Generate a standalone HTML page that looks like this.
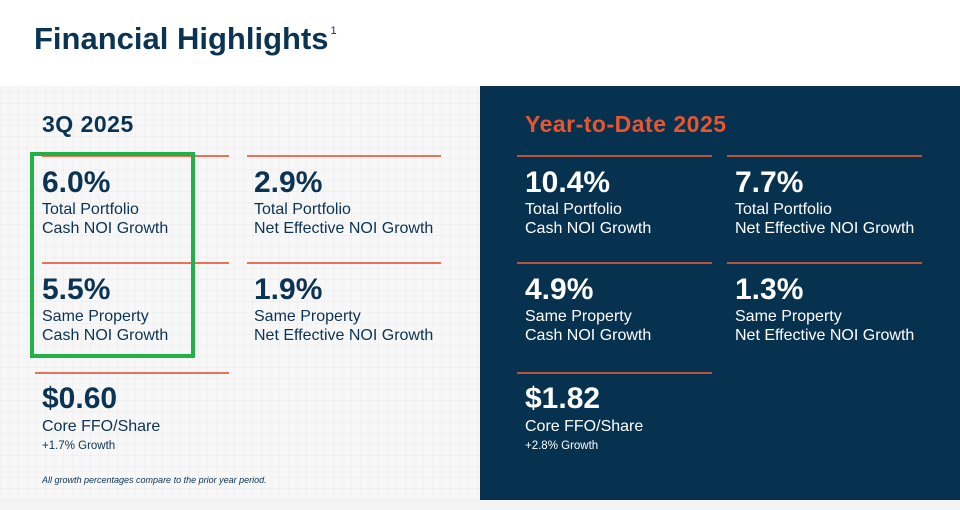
<!DOCTYPE html>
<html><head><meta charset="utf-8"><style>
*{margin:0;padding:0;box-sizing:border-box}
body{width:960px;height:510px;overflow:hidden;background:#f3f3f3;font-family:"Liberation Sans",sans-serif;position:relative}
.hdr{position:absolute;left:0;top:0;width:960px;height:86px;background:#fff}
.title{position:absolute;left:34px;top:21px;font-size:31px;font-weight:bold;color:#0b3354;letter-spacing:0px}
.title sup{font-size:11px;font-weight:normal;vertical-align:top;position:relative;top:4px;margin-left:2px}
.left{position:absolute;left:0;top:86px;width:480px;height:414px;background:#f7f7f7;
background-image:repeating-linear-gradient(90deg,rgba(0,0,0,0.025) 0 1px,transparent 1px 9px),repeating-linear-gradient(0deg,rgba(0,0,0,0.025) 0 1px,transparent 1px 11px)}
.right{position:absolute;left:480px;top:86px;width:480px;height:414px;background:#07324f}
.sec{position:absolute;font-size:23px;font-weight:bold;letter-spacing:0.5px}
.line{position:absolute;height:2px;background:#e8735a}
.val{position:absolute;font-size:30px;font-weight:bold;line-height:30px}
.lab{position:absolute;font-size:16px;line-height:19px}
.sub{position:absolute;font-size:11.5px}
.dk{color:#0b3354}.wt{color:#fff}
.green{position:absolute;left:30px;top:152px;width:165px;height:206px;border:4px solid #22b04a}
.note{position:absolute;left:42px;top:475px;font-size:9px;font-style:italic;color:#0b3354}
</style></head><body>
<div class="hdr"><div class="title">Financial Highlights<sup>1</sup></div></div>
<div class="left"></div>
<div class="right"></div>

<div class="sec dk" style="left:42px;top:111px">3Q 2025</div>
<div class="line" style="left:42px;top:155px;width:187px"></div>
<div class="line" style="left:247px;top:155px;width:194px"></div>
<div class="line" style="left:42px;top:262px;width:187px"></div>
<div class="line" style="left:247px;top:262px;width:194px"></div>
<div class="line" style="left:35px;top:372px;width:194px"></div>

<div class="val dk" style="left:42px;top:168px">6.0%</div>
<div class="lab dk" style="left:42px;top:200px">Total Portfolio<br>Cash NOI Growth</div>
<div class="val dk" style="left:254px;top:168px">2.9%</div>
<div class="lab dk" style="left:254px;top:200px">Total Portfolio<br>Net Effective NOI Growth</div>
<div class="val dk" style="left:42px;top:275px">5.5%</div>
<div class="lab dk" style="left:42px;top:307px">Same Property<br>Cash NOI Growth</div>
<div class="val dk" style="left:254px;top:275px">1.9%</div>
<div class="lab dk" style="left:254px;top:307px">Same Property<br>Net Effective NOI Growth</div>
<div class="val dk" style="left:42px;top:384px">$0.60</div>
<div class="lab dk" style="left:42px;top:417px">Core FFO/Share</div>
<div class="sub dk" style="left:42px;top:440px">+1.7% Growth</div>
<div class="note">All growth percentages compare to the prior year period.</div>
<div class="green"></div>

<div class="sec" style="left:525px;top:111px;color:#e8552f">Year-to-Date 2025</div>
<div class="line" style="left:517px;top:155px;width:195px;background:#b9523e"></div>
<div class="line" style="left:727px;top:155px;width:195px;background:#b9523e"></div>
<div class="line" style="left:517px;top:262px;width:195px;background:#b9523e"></div>
<div class="line" style="left:727px;top:262px;width:195px;background:#b9523e"></div>
<div class="line" style="left:517px;top:372px;width:195px;background:#b9523e"></div>

<div class="val wt" style="left:525px;top:168px">10.4%</div>
<div class="lab wt" style="left:525px;top:200px">Total Portfolio<br>Cash NOI Growth</div>
<div class="val wt" style="left:735px;top:168px">7.7%</div>
<div class="lab wt" style="left:735px;top:200px">Total Portfolio<br>Net Effective NOI Growth</div>
<div class="val wt" style="left:525px;top:275px">4.9%</div>
<div class="lab wt" style="left:525px;top:307px">Same Property<br>Cash NOI Growth</div>
<div class="val wt" style="left:735px;top:275px">1.3%</div>
<div class="lab wt" style="left:735px;top:307px">Same Property<br>Net Effective NOI Growth</div>
<div class="val wt" style="left:525px;top:384px">$1.82</div>
<div class="lab wt" style="left:525px;top:417px">Core FFO/Share</div>
<div class="sub wt" style="left:525px;top:440px">+2.8% Growth</div>
</body></html>
